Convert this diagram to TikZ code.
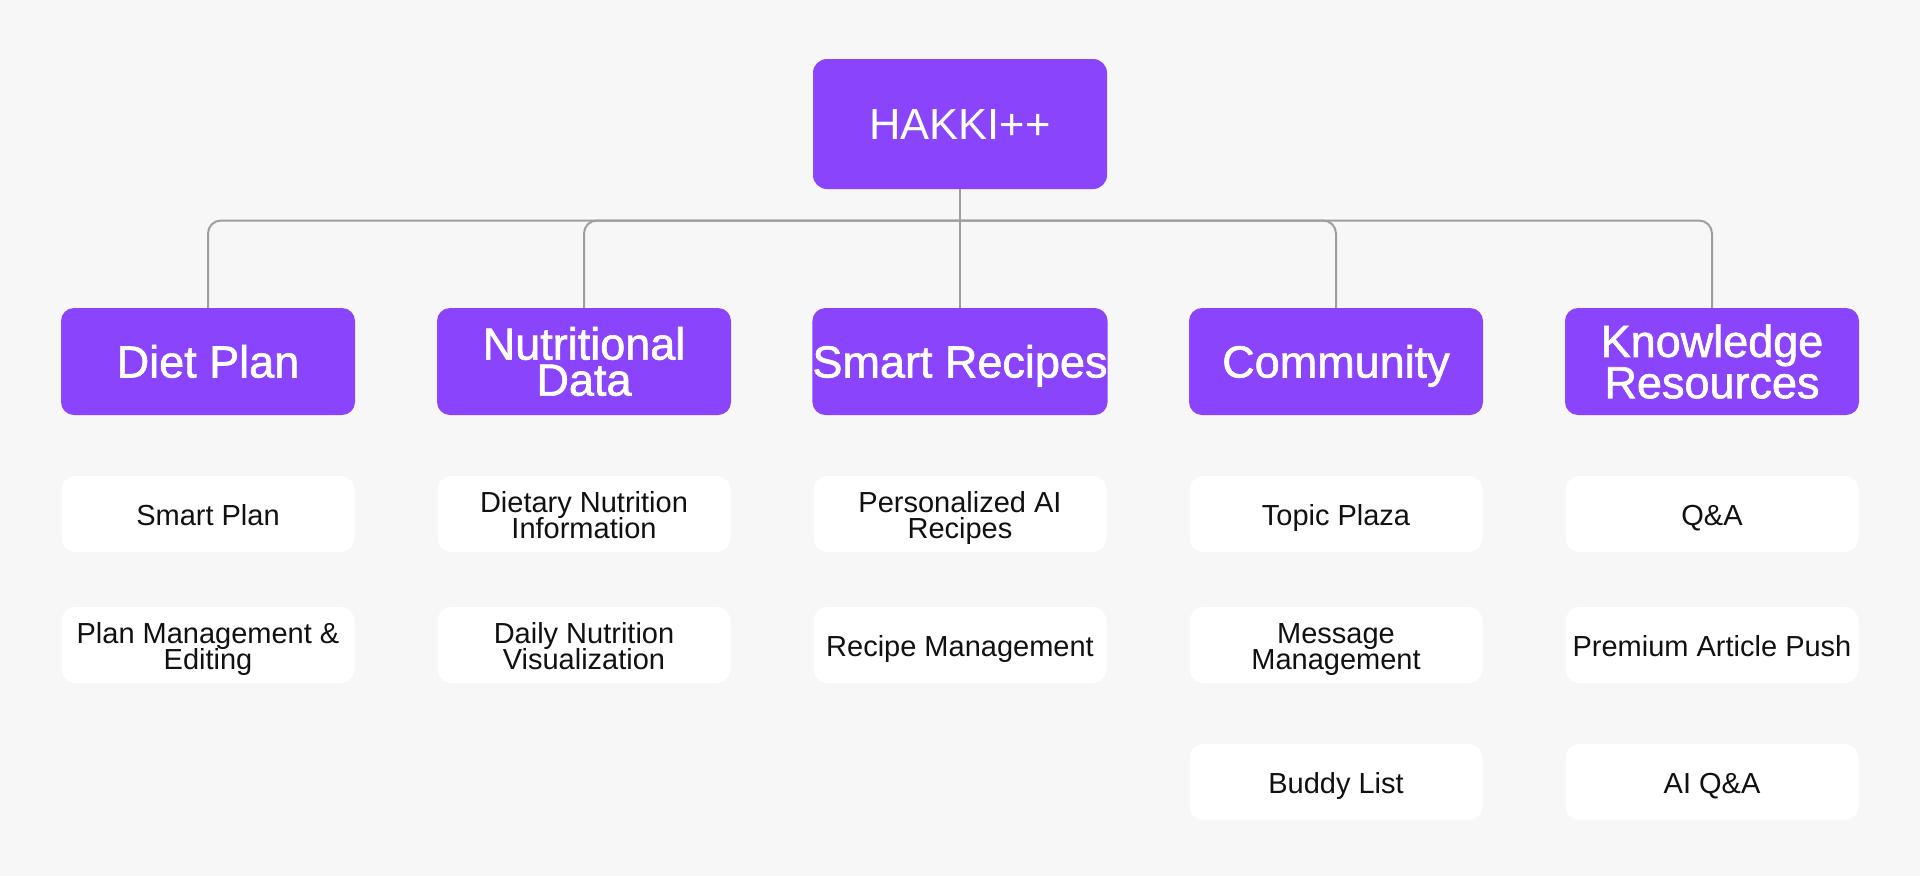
\documentclass[tikz,border=0pt]{standalone}
\usepackage{fontspec}
\setmainfont{Liberation Sans}
\newfontfamily\headfont[FakeBold=1.4]{Liberation Sans}
\definecolor{bgc}{HTML}{F7F7F7}
\definecolor{violet}{HTML}{8A44FB}
\definecolor{linec}{HTML}{9E9E9E}
\definecolor{ink}{HTML}{111111}
% feature text: fixed line pitch even when lines would touch
\newcommand\leaffont{\fontsize{29}{26}\selectfont\setlength{\lineskiplimit}{-60pt}\setlength{\lineskip}{0pt}}
\tikzset{
  rootbox/.style={fill=violet, rounded corners=14pt, minimum width=294pt, minimum height=130pt,
    inner sep=0pt, text=white, text height=31pt, text depth=0pt,
    font=\fontsize{43.5}{40}\selectfont},
  catbox/.style={fill=violet, rounded corners=13pt, minimum width=294pt, minimum height=107pt,
    inner sep=0pt, text=white, align=center, font=\headfont\fontsize{45}{36}\selectfont},
  catone/.style={catbox, text height=32pt, text depth=0pt},
  leafbox/.style={fill=white, rounded corners=14pt, minimum width=293pt, minimum height=76pt,
    inner sep=0pt, text=ink, align=center, font=\leaffont},
  leaftwo/.style={leafbox, text height=48pt, text depth=0pt},
  leafone/.style={leafbox, text height=23pt, text depth=0pt},
  conn/.style={draw=linec, line width=2pt, rounded corners=13pt},
}
\begin{document}
\begin{tikzpicture}[x=1pt,y=-1pt]
  % canvas
  \fill[bgc] (0,0) rectangle (1920,876);
  \useasboundingbox (0,0) rectangle (1920,876);

  % root
  \node[rootbox] (root) at (960,124) {HAKKI++};

  % categories
  \node[catone] (diet)    at (208,361.5)  {Diet Plan};
  \node[catbox] (nutri)   at (584,361.5)  {Nutritional\\Data};
  \node[catone] (recipes) at (960,361.5)  {Smart Recipes};
  \node[catone] (comm)    at (1336,361.5) {Community};
  \node[catbox] (know)    at (1712,361.5) {Knowledge\\Resources};

  % connectors
  \coordinate (bus) at (960,220.5);
  \draw[conn] (root.south) -- (recipes.north);
  \draw[conn] (bus) -| (diet.north);
  \draw[conn] (bus) -| (nutri.north);
  \draw[conn] (bus) -| (comm.north);
  \draw[conn] (bus) -| (know.north);

  % features
  \node[leafone] (diet1) at (208,514) {Smart Plan};
  \node[leaftwo] (diet2) at (208,645) {Plan Management \&\\Editing};

  \node[leaftwo] (nutri1) at (584,514) {Dietary Nutrition\\Information};
  \node[leaftwo] (nutri2) at (584,645) {Daily Nutrition\\Visualization};

  \node[leaftwo] (rec1) at (960,514) {Personalized AI\\Recipes};
  \node[leafone] (rec2) at (960,645) {Recipe Management};

  \node[leafone] (comm1) at (1336,514) {Topic Plaza};
  \node[leaftwo] (comm2) at (1336,645) {Message\\Management};
  \node[leafone] (comm3) at (1336,782) {Buddy List};

  \node[leafone] (know1) at (1712,514) {Q\&A};
  \node[leafone] (know2) at (1712,645) {Premium Article Push};
  \node[leafone] (know3) at (1712,782) {AI Q\&A};
\end{tikzpicture}
\end{document}
